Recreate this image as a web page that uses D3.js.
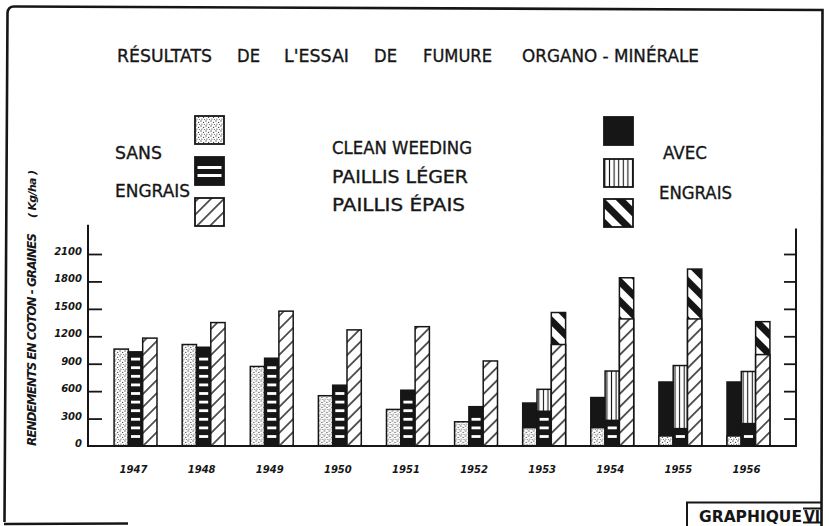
<!DOCTYPE html>
<html>
<head>
<meta charset="utf-8">
<script src="https://cdn.jsdelivr.net/npm/d3@7"></script>
<style>
  html, body { margin: 0; padding: 0; background: #ffffff; }
  svg { display: block; }
  text { font-family: 'DejaVu Sans', sans-serif; fill: #161616; }
  .lettering { stroke: #161616; stroke-width: 0.35px; }
</style>
</head>
<body>
<svg id="chart" width="829" height="526"></svg>
<script>
// Rendements en coton-graines (kg/ha), essai de fumure organo-minérale
const years = [1947, 1948, 1949, 1950, 1951, 1952, 1953, 1954, 1955, 1956];
const treatments = ["CLEAN WEEDING", "PAILLIS LÉGER", "PAILLIS ÉPAIS"];

// sans engrais
const sansCleanWeeding = [1060, 1110, 870, 550, 400, 265, 200, 200, 110, 110];
const sansPaillisLeger = [1030, 1080, 960, 665, 610, 430, 380, 280, 190, 245];
const sansPaillisEpais = [1180, 1350, 1475, 1270, 1305, 930, 1110, 1390, 1390, 1000];

// avec engrais (à partir de 1953)
const avecCleanWeeding = [null, null, null, null, null, null, 470, 530, 700, 700];
const avecPaillisLeger = [null, null, null, null, null, null, 620, 820, 880, 815];
const avecPaillisEpais = [null, null, null, null, null, null, 1460, 1840, 1935, 1360];

const yTicks = [0, 300, 600, 900, 1200, 1500, 1800, 2100];
const titleWords = ["RÉSULTATS", "DE", "L'ESSAI", "DE", "FUMURE", "ORGANO - MINÉRALE"];

const ink = "#161616";
const svg = d3.select("#chart");
const defs = svg.append("defs");

// ---- fill patterns ----
const stip = defs.append("pattern").attr("id", "stipple")
  .attr("patternUnits", "userSpaceOnUse").attr("width", 5).attr("height", 5);
stip.append("rect").attr("width", 5).attr("height", 5).attr("fill", "#fff");
[[1, 1, 0.7], [3.6, 2.4, 0.65], [1.9, 4.1, 0.6], [4.4, 4.6, 0.5]].forEach(([cx, cy, r]) =>
  stip.append("circle").attr("cx", cx).attr("cy", cy).attr("r", r).attr("fill", "#444"));

const hatch = defs.append("pattern").attr("id", "hatch")
  .attr("patternUnits", "userSpaceOnUse").attr("width", 9.2).attr("height", 9.2)
  .attr("patternTransform", "rotate(45)");
hatch.append("rect").attr("width", 9.2).attr("height", 9.2).attr("fill", "#fff");
hatch.append("line").attr("x1", 4.6).attr("x2", 4.6).attr("y1", 0).attr("y2", 9.2)
  .attr("stroke", ink).attr("stroke-width", 1.4);

const vl = defs.append("pattern").attr("id", "vlines")
  .attr("patternUnits", "userSpaceOnUse").attr("width", 4.6).attr("height", 10);
vl.append("rect").attr("width", 4.6).attr("height", 10).attr("fill", "#fff");
vl.append("line").attr("x1", 2.3).attr("x2", 2.3).attr("y1", 0).attr("y2", 10)
  .attr("stroke", ink).attr("stroke-width", 1.1);

const bands = defs.append("pattern").attr("id", "bands")
  .attr("patternUnits", "userSpaceOnUse").attr("width", 14).attr("height", 14)
  .attr("patternTransform", "rotate(-45)");
bands.append("rect").attr("width", 14).attr("height", 14).attr("fill", "#fff");
bands.append("rect").attr("width", 7).attr("height", 14).attr("fill", ink);

// ---- scales ----
const x = d3.scaleBand().domain(years).range([88, 796]).paddingInner(0.37).paddingOuter(0.383);
const xi = d3.scaleBand().domain(treatments).range([0, x.bandwidth()]);
const y = d3.scaleLinear().domain([0, 2100]).range([446, 254]);

const sansSeries = [sansCleanWeeding, sansPaillisLeger, sansPaillisEpais];
const avecSeries = [avecCleanWeeding, avecPaillisLeger, avecPaillisEpais];
const sansFill = ["url(#stipple)", ink, "url(#hatch)"];
const avecFill = [ink, "url(#vlines)", "url(#bands)"];

// ---- frame ----
svg.append("path").attr("d", "M4.5,522 L7.5,13 Q8,6.5 14,6.5 L822.5,10 L821.5,526")
  .attr("fill", "none").attr("stroke", ink).attr("stroke-width", 2.6);
svg.append("path").attr("d", "M4,524 L128,523.5")
  .attr("fill", "none").attr("stroke", ink).attr("stroke-width", 2.4);

// ---- title ----
const titleX = [117, 237, 284, 374, 423, 522];
const titleW = [95, 23, 65, 23, 69, 177];
titleWords.forEach((w, i) => svg.append("text").attr("class", "lettering")
  .attr("x", titleX[i]).attr("y", 62).attr("font-size", 17.5)
  .attr("textLength", titleW[i]).attr("lengthAdjust", "spacingAndGlyphs").text(w));

// ---- legend ----
const legendText = (txt, lx, ly, fs, len) => {
  const t = svg.append("text").attr("class", "lettering").attr("x", lx).attr("y", ly)
    .attr("font-size", fs).text(txt);
  if (len) t.attr("textLength", len).attr("lengthAdjust", "spacingAndGlyphs");
  return t;
};
legendText("SANS", 115, 159, 17.5, 47);
legendText("ENGRAIS", 115, 197, 17.5, 75);
legendText("AVEC", 663, 159, 17, 44);
legendText("ENGRAIS", 659, 199, 17, 73);
const midY = [154, 183, 211];
const midW = [140, 136, 133];
treatments.forEach((t, j) => legendText(t, 332, midY[j], 17, midW[j]));

const leftBoxY = [116, 157, 198];
const rightBoxY = [117, 159, 199];
treatments.forEach((t, j) => {
  svg.append("rect").attr("x", 195).attr("y", leftBoxY[j]).attr("width", 29).attr("height", 28)
    .attr("fill", sansFill[j]).attr("stroke", ink).attr("stroke-width", 1.8);
  if (j === 1) {
    [9, 17].forEach(o => svg.append("rect").attr("x", 197.5).attr("y", leftBoxY[j] + o)
      .attr("width", 24).attr("height", 3).attr("fill", "#fff"));
  }
  svg.append("rect").attr("x", 604).attr("y", rightBoxY[j]).attr("width", 29).attr("height", 28)
    .attr("fill", avecFill[j]).attr("stroke", ink).attr("stroke-width", 1.8);
});

// ---- bars ----
const groups = svg.append("g").selectAll("g").data(years).join("g")
  .attr("transform", d => `translate(${x(d)},0)`);

groups.each(function (yr, i) {
  const g = d3.select(this);
  treatments.forEach((t, j) => {
    const sv = sansSeries[j][i];
    const av = avecSeries[j][i];
    const bx = xi(t), bw = xi.bandwidth();
    if (av != null) {
      g.append("rect").attr("x", bx).attr("y", y(av)).attr("width", bw).attr("height", y(0) - y(av))
        .attr("fill", avecFill[j]).attr("stroke", ink).attr("stroke-width", 1.5);
    }
    g.append("rect").attr("x", bx).attr("y", y(sv)).attr("width", bw).attr("height", y(0) - y(sv))
      .attr("fill", sansFill[j]).attr("stroke", ink).attr("stroke-width", 1.5);
    if (j === 1) {
      // white dashes of the striped bar
      for (let c = y(0) - 9.5; c > y(sv) + 6; c -= 8.6) {
        g.append("rect").attr("x", bx + 2.6).attr("y", c - 1.4).attr("width", bw - 5.2).attr("height", 2.8)
          .attr("fill", "#fff");
      }
    }
  });
});

// ---- axes ----
const axL = svg.append("g").attr("transform", "translate(88,0)")
  .call(d3.axisLeft(y).tickValues(yTicks).tickSize(-14).tickPadding(6).tickFormat(d3.format("d")));
axL.select(".domain").remove();
axL.selectAll(".tick line").attr("stroke", ink).attr("stroke-width", 1.8);
axL.selectAll(".tick").filter(d => d === 0).select("line").remove();
axL.selectAll(".tick text").attr("dy", "0.05em").attr("font-size", 10)
  .attr("font-weight", "bold").attr("font-style", "italic").attr("fill", ink)
  .attr("font-family", "'DejaVu Sans', sans-serif");

const axR = svg.append("g").attr("transform", "translate(796,0)")
  .call(d3.axisRight(y).tickValues(yTicks.filter(v => v > 0)).tickSize(-12).tickFormat(""));
axR.select(".domain").remove();
axR.selectAll(".tick line").attr("stroke", ink).attr("stroke-width", 1.8);

svg.append("line").attr("x1", 88).attr("x2", 88).attr("y1", y(0) + 1).attr("y2", y(2420))
  .attr("stroke", ink).attr("stroke-width", 2);
svg.append("line").attr("x1", 796).attr("x2", 796).attr("y1", y(0) + 1).attr("y2", y(2380))
  .attr("stroke", ink).attr("stroke-width", 2);
svg.append("line").attr("x1", 87).attr("x2", 797).attr("y1", y(0)).attr("y2", y(0))
  .attr("stroke", ink).attr("stroke-width", 2);

const axB = svg.append("g").attr("transform", `translate(-2,${y(0)})`)
  .call(d3.axisBottom(x).tickSize(0).tickPadding(20));
axB.select(".domain").remove();
axB.selectAll(".tick text").attr("font-size", 10).attr("font-weight", "bold")
  .attr("font-style", "italic").attr("fill", ink).attr("font-family", "'DejaVu Sans', sans-serif");

// ---- y axis title ----
svg.append("text").attr("transform", "translate(36,446) rotate(-90)")
  .attr("font-family", "'DejaVu Sans Condensed', 'DejaVu Sans', sans-serif")
  .attr("font-size", 12).attr("font-weight", "bold").attr("font-style", "italic")
  .attr("textLength", 213).attr("lengthAdjust", "spacing")
  .text("RENDEMENTS  EN  COTON - GRAINES");
svg.append("text").attr("transform", "translate(36,218) rotate(-90)")
  .attr("font-family", "'DejaVu Sans Condensed', 'DejaVu Sans', sans-serif")
  .attr("font-size", 11).attr("font-weight", "bold").attr("font-style", "italic")
  .attr("textLength", 48).attr("lengthAdjust", "spacing")
  .text("( Kg/ha )");

// ---- plate label ----
svg.append("path").attr("d", "M687,526 L687,502.5 L822,502.5")
  .attr("fill", "none").attr("stroke", ink).attr("stroke-width", 2);
svg.append("text").attr("x", 699).attr("y", 522).attr("font-size", 15.5).attr("font-weight", "bold")
  .attr("textLength", 103).attr("lengthAdjust", "spacingAndGlyphs").text("GRAPHIQUE");
svg.append("text").attr("x", 804).attr("y", 521.5).attr("font-size", 15).attr("font-weight", "bold")
  .attr("textLength", 16).attr("lengthAdjust", "spacingAndGlyphs").text("VI");
svg.append("path").attr("d", "M803,508.5 L821,508.5 M803,522.5 L821,522.5")
  .attr("stroke", ink).attr("stroke-width", 1.8);
</script>
</body>
</html>
